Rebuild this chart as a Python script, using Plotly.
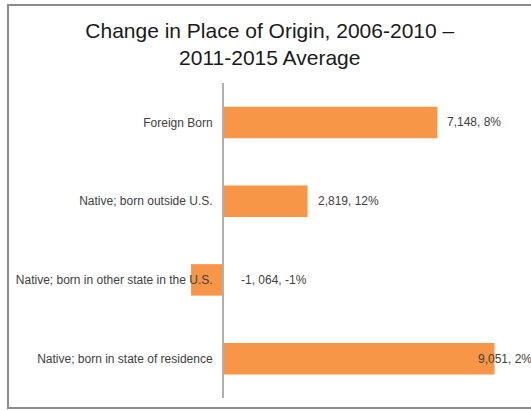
import plotly.graph_objects as go

categories = [
    "Foreign Born",
    "Native; born outside U.S.",
    "Native; born in other state in the U.S.",
    "Native; born in state of residence",
]
changes = [7148, 2819, -1064, 9051]
bar_labels = ["7,148, 8%", "2,819, 12%", "-1, 064, -1%", "9,051, 2%"]
label_shift = [8, 8, 16, -19]

W, H = 531, 410
ML, MR, MT, MB = 190, 23, 83, 12
x_range = [-1100, 9500]

fig = go.Figure()
fig.add_trace(go.Bar(
    x=changes,
    y=categories,
    orientation="h",
    marker=dict(color="#F79646", line=dict(width=0)),
    hoverinfo="x+y",
))

# value labels sit just past the bar end (or past zero for the negative one)
for cat, val, txt, sh in zip(categories, changes, bar_labels, label_shift):
    fig.add_annotation(
        x=max(val, 0), y=cat, xref="x", yref="y",
        text=txt, showarrow=False, xanchor="left", xshift=sh,
        font=dict(family="Liberation Sans, Arial", size=12, color="#404040"),
    )

# outer frame like the pasted chart object
pw = W - ML - MR
ph = H - MT - MB
fig.add_shape(
    type="rect", xref="paper", yref="paper",
    x0=(8 - ML) / pw, x1=(540 - ML) / pw,
    y0=(H - 408 - MB) / ph, y1=(H - 5 - MB) / ph,
    line=dict(color="#8c8c8c", width=2), fillcolor="rgba(0,0,0,0)",
    layer="below",
)

zero_pos = (0 - x_range[0]) / (x_range[1] - x_range[0])

fig.update_layout(
    width=W, height=H,
    margin=dict(l=ML, r=MR, t=MT, b=MB, autoexpand=False),
    paper_bgcolor="white", plot_bgcolor="white",
    showlegend=False,
    bargap=0.6,
    title=dict(
        text="Change in Place of Origin, 2006-2010 –<br>2011-2015 Average",
        x=0.508, xref="container", xanchor="center",
        y=1 - 38 / H, yref="container", yanchor="top",
        font=dict(family="Liberation Sans, Arial", size=21, color="#1a1a1a"),
    ),
    xaxis=dict(
        range=x_range, visible=False, showgrid=False, zeroline=False,
        fixedrange=True,
    ),
    yaxis=dict(
        autorange="reversed",
        anchor="free", position=zero_pos,
        showline=True, linecolor="#b0b0b0", linewidth=2,
        showgrid=False, zeroline=False, ticks="",
        ticklabelstandoff=7, automargin=False,
        tickfont=dict(family="Liberation Sans, Arial", size=12, color="#404040"),
    ),
)

# page body has a default 8px margin; drop it so the figure fills the window
fig.write_html(
    "out.html",
    config={"displayModeBar": False},
    post_script="document.body.style.margin = '0';",
)
